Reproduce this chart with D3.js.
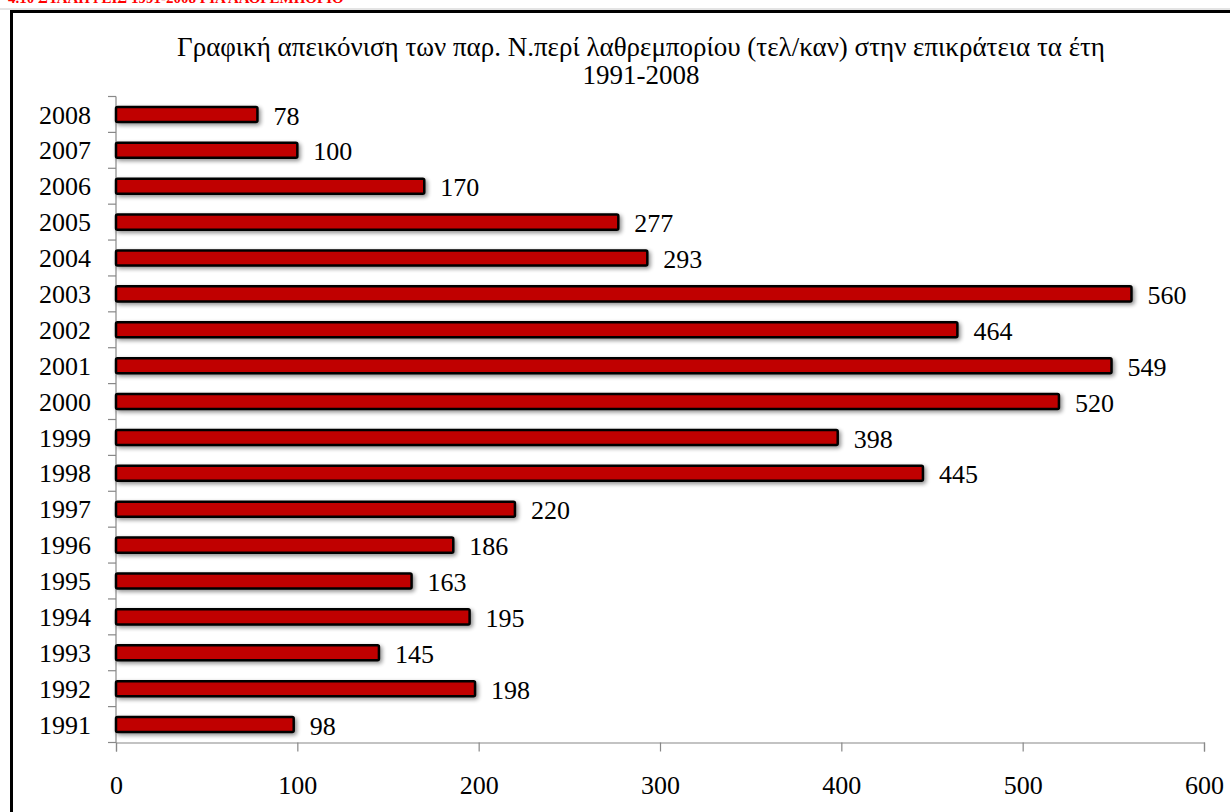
<!DOCTYPE html>
<html><head><meta charset="utf-8">
<script src="https://cdn.jsdelivr.net/npm/d3@7"></script>
<style>body{margin:0;background:#fff}svg{display:block}svg text{font-family:"Liberation Serif","Times New Roman",serif}</style>
</head><body><svg id="c" width="1230" height="812"></svg>
<script>
const years = ["1991","1992","1993","1994","1995","1996","1997","1998","1999","2000","2001","2002","2003","2004","2005","2006","2007","2008"];
const values = [98,198,145,195,163,186,220,445,398,520,549,464,560,293,277,170,100,78];
const xTicks = [0,100,200,300,400,500,600];
const titleLines = ["Γραφική απεικόνιση των παρ. Ν.περί λαθρεμπορίου (τελ/καν) στην επικράτεια τα έτη","1991-2008"];
const headerText = "4.10 ΣΥΛΛΗΨΕΙΣ 1991-2008 ΓΙΑ ΛΑΘΡΕΜΠΟΡΙΟ";

const FS = 26;
const svg = d3.select("#c");
const defs = svg.append("defs");
const f = defs.append("filter").attr("id","sh").attr("x","-5%").attr("y","-50%").attr("width","110%").attr("height","200%");
f.append("feGaussianBlur").attr("in","SourceAlpha").attr("stdDeviation",2.2).attr("result","b");
f.append("feOffset").attr("in","b").attr("dx",1.5).attr("dy",1.5).attr("result","o");
f.append("feComponentTransfer").attr("in","o").attr("result","o2").append("feFuncA").attr("type","linear").attr("slope",0.45);
const m = f.append("feMerge"); m.append("feMergeNode").attr("in","o2"); m.append("feMergeNode").attr("in","SourceGraphic");

// header (cut off at top, as in the source)
svg.append("text").attr("x",8).attr("y",3).attr("fill","#ff0000").attr("font-weight","bold")
  .attr("font-size",15).text(headerText);
svg.append("line").attr("x1",0).attr("x2",1230).attr("y1",9).attr("y2",9).attr("stroke","#c8c8c8").attr("stroke-width",1);
// frame
svg.append("rect").attr("x",11.5).attr("y",11.5).attr("width",1240).attr("height",820)
  .attr("fill","none").attr("stroke","#000").attr("stroke-width",3);

const x = d3.scaleLinear().domain([0,600]).range([116,1204]);
const y = d3.scaleBand().domain(years.slice().reverse()).range([96.5,742.5]).paddingInner(0.58).paddingOuter(0.29);
const yb = d3.scaleBand().domain(years.slice().reverse()).range([96.5,742.5]);

// title
svg.append("g").selectAll("text").data(titleLines).join("text")
  .attr("x",641).attr("y",(d,i)=>56+i*28).attr("text-anchor","middle").attr("font-size",27).attr("fill","#000").text(d=>d);

// x axis
const xa = svg.append("g").attr("transform","translate(0,742.5)")
  .call(d3.axisBottom(x).tickValues(xTicks).tickSize(9).tickPadding(24).tickFormat(d3.format("d")));
xa.select(".domain").attr("stroke","#888").attr("stroke-width",1.2);
xa.selectAll(".tick line").attr("stroke","#888").attr("stroke-width",1.2);
xa.selectAll("text").attr("font-size",FS).attr("fill","#000");

// y axis line + ticks at band boundaries
const ya = svg.append("g");
ya.append("line").attr("x1",116).attr("x2",116).attr("y1",96.5).attr("y2",742.5).attr("stroke","#888").attr("stroke-width",1.2);
const bounds = years.map(d=>yb(d)).concat([742.5]);
ya.selectAll("line.t").data(bounds).join("line").attr("class","t")
  .attr("x1",108).attr("x2",116).attr("y1",d=>d).attr("y2",d=>d).attr("stroke","#888").attr("stroke-width",1.2);
ya.selectAll("text").data(years).join("text")
  .attr("x",91).attr("y",d=>yb(d)+yb.bandwidth()/2).attr("dy","0.35em").attr("text-anchor","end")
  .attr("font-size",FS).attr("fill","#000").text(d=>d);

// bars
const data = years.map((d,i)=>({year:d,value:values[i]}));
svg.append("g").attr("filter","url(#sh)").selectAll("rect").data(data).join("rect")
  .attr("x",x(0)).attr("y",d=>y(d.year)).attr("width",d=>x(d.value)-x(0)).attr("height",y.bandwidth())
  .attr("fill","#c00000").attr("stroke","#000").attr("stroke-width",2.5).attr("rx",1.5);

svg.append("g").selectAll("text").data(data).join("text")
  .attr("x",d=>x(d.value)+16).attr("y",d=>yb(d.year)+yb.bandwidth()/2+1).attr("dy","0.35em")
  .attr("font-size",FS).attr("fill","#000").text(d=>d.value);
</script></body></html>
